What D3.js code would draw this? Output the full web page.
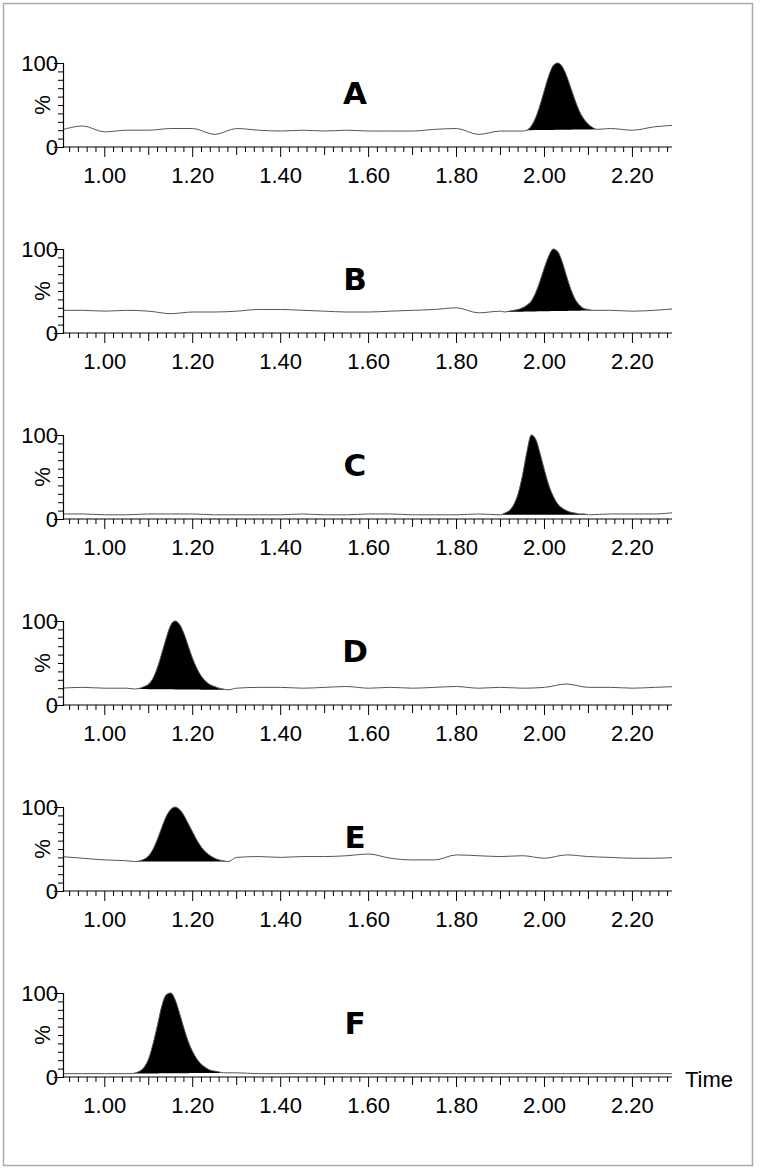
<!DOCTYPE html>
<html>
<head>
<meta charset="utf-8">
<script src="https://cdn.jsdelivr.net/npm/d3@7"></script>
<style>
  body { margin: 0; background: #fff; }
  text { font-family: "Liberation Sans", Arial, sans-serif; }
</style>
</head>
<body>
<div id="elements"></div>
<script>
"use strict";

// sample times for the baseline traces
const baseTimes = [0.90, 0.95, 1.00, 1.05, 1.10, 1.15, 1.20, 1.25, 1.30, 1.35, 1.40, 1.45, 1.50, 1.55,
  1.60, 1.65, 1.70, 1.75, 1.80, 1.85, 1.90, 1.95, 2.00, 2.05, 2.10, 2.15, 2.20, 2.25, 2.30];

const panelLabels = ["A", "B", "C", "D", "E", "F"];

const baseA = [20, 25, 18, 20, 20, 22, 22, 15, 22, 20, 19, 20, 19, 20, 19, 19, 19, 21, 22, 15, 19, 19, 0, 0, 0, 22, 20, 24, 26];
const baseB = [27, 27, 26, 27, 26, 23, 25, 25, 26, 28, 28, 27, 26, 25, 25, 26, 27, 28, 30, 24, 26, 0, 0, 0, 0, 27, 26, 27, 29];
const baseC = [6, 6, 5, 5, 6, 6, 6, 5, 5, 5, 5, 6, 5, 5, 6, 6, 5, 5, 5, 6, 0, 0, 0, 0, 0, 6, 6, 6, 8];
const baseD = [20, 21, 20, 20, 0, 0, 0, 0, 20, 21, 21, 20, 21, 22, 20, 21, 20, 21, 22, 20, 21, 20, 21, 25, 21, 21, 20, 21, 22];
const baseE = [41, 39, 37, 36, 0, 0, 0, 0, 40, 41, 40, 41, 41, 42, 44, 39, 37, 37, 43, 42, 41, 42, 39, 43, 41, 40, 39, 39, 40];
const baseF = [4, 4, 4, 4, 0, 0, 0, 0, 5, 4, 4, 4, 4, 4, 4, 4, 4, 4, 4, 4, 4, 4, 4, 4, 4, 4, 4, 4, 4];

// peak traces, one value per 0.01 min from the peak start
const peakStart = [1.96, 1.91, 1.90, 1.07, 1.07, 1.06];
const peakA = [20, 25, 35, 50, 68, 85, 97, 100, 96, 85, 70, 55, 42, 33, 27, 23, 21];
const peakB = [25, 26, 27, 28, 30, 33, 38, 48, 62, 78, 92, 100, 97, 85, 68, 52, 40, 33, 29, 28, 27, 27];
const peakC = [5, 7, 10, 17, 30, 52, 80, 100, 95, 78, 58, 40, 27, 18, 13, 10, 8, 7, 6, 6, 5];
const peakD = [19, 20, 22, 25, 32, 45, 62, 80, 95, 100, 96, 85, 70, 55, 43, 34, 28, 24, 22, 20, 19, 18];
const peakE = [35, 36, 38, 42, 50, 62, 76, 89, 97, 100, 97, 90, 80, 70, 60, 52, 46, 42, 39, 37, 36, 35];
const peakF = [4, 5, 7, 12, 22, 40, 62, 85, 98, 100, 92, 76, 58, 42, 30, 21, 15, 11, 8, 7, 6, 5, 5];

const bases = [baseA, baseB, baseC, baseD, baseE, baseF];
const peaks = [peakA, peakB, peakC, peakD, peakE, peakF];

const width = 762, height = 1174;
const svg = d3.select("#elements").append("svg")
  .attr("width", width).attr("height", height);

svg.append("rect")
  .attr("x", 3.5).attr("y", 3.5).attr("width", 749).attr("height", 1162)
  .attr("fill", "none").attr("stroke", "#aaa").attr("stroke-width", 1.5);

const x = d3.scaleLinear().domain([0.905, 2.29]).range([63, 672]);
const line = d3.line().x(d => x(d[0])).y(d => d[1]).curve(d3.curveMonotoneX);

svg.append("clipPath").attr("id", "plotclip")
  .append("rect").attr("x", 64).attr("y", 0).attr("width", 608).attr("height", height);

panelLabels.forEach((label, i) => {
  const y0 = 147 + 186 * i;
  const y = d3.scaleLinear().domain([0, 100]).range([y0, y0 - 84]);
  const g = svg.append("g");

  const t0 = peakStart[i];
  const pk = peaks[i].map((v, j) => [+(t0 + j * 0.01).toFixed(2), v]);
  const t1 = pk[pk.length - 1][0];
  const pts = baseTimes.map((t, j) => [t, bases[i][j]])
    .filter(d => d[0] < t0 - 0.005 || d[0] > t1 + 0.005)
    .concat(pk)
    .sort((a, b) => a[0] - b[0]);

  // filled peak down to the line joining its ends
  const v0 = pk[0][1], v1 = pk[pk.length - 1][1];
  const area = d3.area()
    .x(d => x(d[0]))
    .y1(d => y(d[1]))
    .y0(d => y(v0 + (v1 - v0) * (d[0] - t0) / (t1 - t0)))
    .curve(d3.curveMonotoneX);
  const plot = g.append("g").attr("clip-path", "url(#plotclip)");
  plot.append("path").datum(pk).attr("d", area).attr("fill", "#000");

  plot.append("path")
    .datum(pts.map(d => [d[0], y(d[1])]))
    .attr("d", line)
    .attr("fill", "none").attr("stroke", "#555").attr("stroke-width", 1);

  // x axis: minor 0.02, medium 0.1, labels every 0.2
  const xg = g.append("g").attr("transform", "translate(0," + y0 + ")");
  xg.append("line").attr("x1", 63).attr("x2", 672).attr("stroke", "#000").attr("stroke-width", 1.2);
  d3.range(46, 115).map(k => k * 0.02).filter(t => t >= 0.905 && t <= 2.29).forEach(t => {
    const k = Math.round(t * 100);
    const len = k % 20 === 0 ? 10 : (k % 10 === 0 ? 8 : 5);
    xg.append("line").attr("x1", x(t)).attr("x2", x(t)).attr("y1", 0).attr("y2", len)
      .attr("stroke", "#000").attr("stroke-width", 1);
  });
  [1.0, 1.2, 1.4, 1.6, 1.8, 2.0, 2.2].forEach(t => {
    xg.append("text").attr("x", x(t)).attr("y", 36).attr("text-anchor", "middle")
      .attr("font-size", 22).text(t.toFixed(2));
  });

  // y axis
  const yAxis = d3.axisLeft(y).tickValues(d3.range(0, 101, 10)).tickSize(5).tickFormat("");
  const yg = g.append("g").attr("transform", "translate(63,0)").call(yAxis);
  yg.select(".domain").attr("stroke-width", 1.2);
  yg.selectAll(".tick line").filter(d => d === 0 || d === 100).attr("x2", -9);
  g.append("text").attr("x", 58).attr("y", y(100) + 8).attr("text-anchor", "end")
    .attr("font-size", 22).text("100");
  g.append("text").attr("x", 58).attr("y", y(0) + 8).attr("text-anchor", "end")
    .attr("font-size", 22).text("0");
  g.append("text").attr("transform", "translate(50," + y(50) + ") rotate(-90)")
    .attr("text-anchor", "middle").attr("font-size", 22).text("%");

  g.append("text").attr("x", 355).attr("y", y(66) + 12).attr("text-anchor", "middle")
    .style("font-family", "'DejaVu Sans', sans-serif")
    .attr("font-size", 31).attr("font-weight", "bold").text(label);
});

svg.append("text").attr("x", 685).attr("y", 1087).attr("font-size", 22).text("Time");
</script>
</body>
</html>
